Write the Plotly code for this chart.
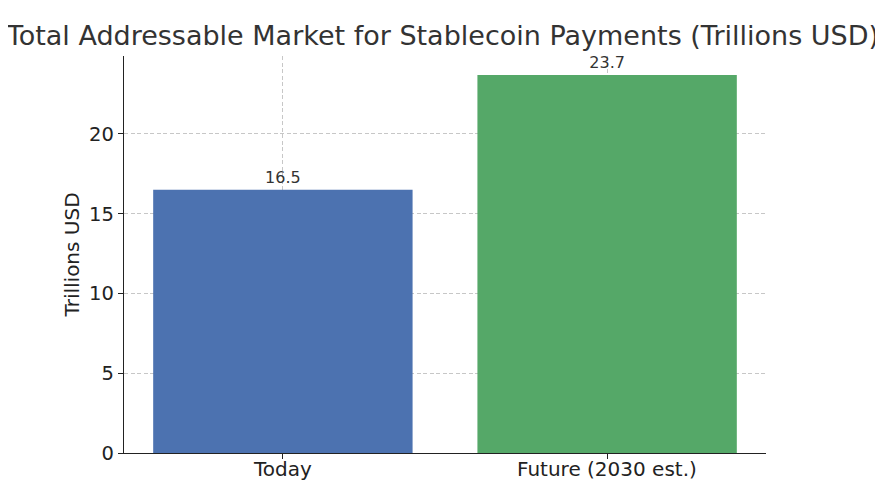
import plotly.graph_objects as go

# values
categories = ["Today", "Future (2030 est.)"]
market_trillions = [16.5, 23.7]
bar_colors = ["#4C72B0", "#55A868"]
y_ticks = [0, 5, 10, 15, 20]

INK = "#333333"
AXIS = "#222222"
GRID = "rgba(180,180,180,0.75)"
FONT = "DejaVu Sans"

positions = list(range(len(categories)))

fig = go.Figure()

fig.add_trace(
    go.Bar(
        x=positions,
        y=market_trillions,
        width=0.8,
        marker=dict(color=bar_colors, line=dict(width=0)),
        text=[f"{v}" for v in market_trillions],
        textposition="outside",
        textfont=dict(family=FONT, size=16, color=INK),
        cliponaxis=False,
        hovertemplate="%{y}<extra></extra>",
    )
)

# category labels as annotations so they sit as tight under the axis as
# the reference does
for pos, label in zip(positions, categories):
    fig.add_annotation(
        x=pos,
        xref="x",
        y=0,
        yref="paper",
        yanchor="top",
        yshift=-2,
        text=label,
        showarrow=False,
        font=dict(family=FONT, size=20, color=AXIS),
    )

# page body adds an 8px offset, so margins are shifted to land the plot
# area where the reference has it
fig.update_layout(
    width=875,
    height=481,
    margin=dict(l=116, r=117, t=48, b=36),
    paper_bgcolor="white",
    plot_bgcolor="white",
    font=dict(family=FONT, color=INK),
    showlegend=False,
    title=dict(
        text="Total Addressable Market for Stablecoin Payments (Trillions USD)",
        x=0.497,
        xanchor="center",
        y=1 - 28 / 481,
        yanchor="middle",
        font=dict(family=FONT, size=27, color=INK),
    ),
    xaxis=dict(
        range=[-0.49, 1.49],
        tickvals=positions,
        showticklabels=False,
        showline=True,
        linecolor=AXIS,
        linewidth=1.3,
        ticks="outside",
        ticklen=5,
        tickcolor=AXIS,
        showgrid=True,
        gridcolor=GRID,
        griddash="4px,2.5px",
        gridwidth=1,
        layer="above traces",
        zeroline=False,
        automargin=False,
        fixedrange=True,
    ),
    yaxis=dict(
        range=[0, 24.885],
        tickvals=y_ticks,
        tickfont=dict(size=19.5, color=AXIS),
        title=dict(text="Trillions USD", font=dict(size=20, color=AXIS), standoff=4),
        showline=True,
        linecolor=AXIS,
        linewidth=1.3,
        ticks="outside",
        ticklen=5,
        tickcolor=AXIS,
        showgrid=True,
        gridcolor=GRID,
        griddash="4px,2.5px",
        gridwidth=1,
        layer="above traces",
        zeroline=False,
        automargin=False,
        fixedrange=True,
    ),
)

fig.write_html("out.html")
